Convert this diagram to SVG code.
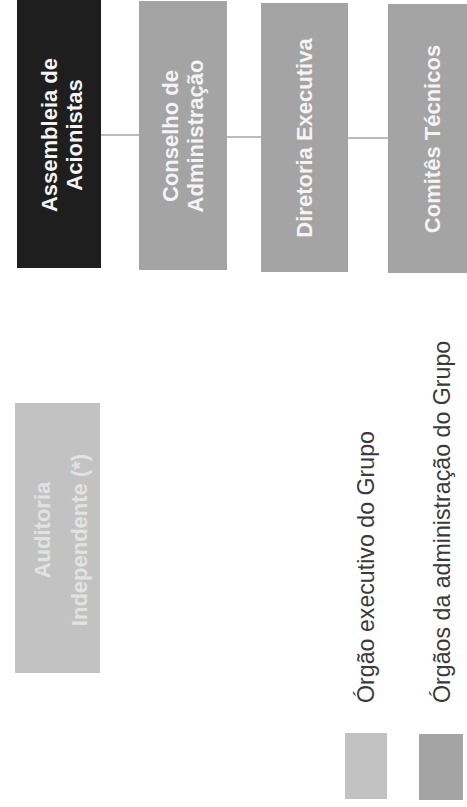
<svg xmlns="http://www.w3.org/2000/svg" width="467" height="807" viewBox="0 0 467 807">
<style>
.bx{font-family:"Liberation Sans",Arial,sans-serif;font-weight:bold;font-size:22px;fill:#f4f4f4;text-anchor:middle}
.au{font-family:"Liberation Sans",Arial,sans-serif;font-weight:bold;font-size:22px;fill:#e2e2e2;text-anchor:middle}
.lg{font-family:"Liberation Sans",Arial,sans-serif;font-size:23.2px;fill:#3a3a3a}
.dark{fill:#1e1e1e}
.gray{fill:#a4a4a4}
.light{fill:#c2c2c2}
.conn line{stroke:#7a7a7a;stroke-width:1.2}
</style>
<rect width="467" height="807" fill="#ffffff"/>
<g class="conn" id="connectors">
<line x1="101" y1="135" x2="139" y2="135"/>
<line x1="227" y1="137" x2="261" y2="137"/>
<line x1="348" y1="138" x2="388" y2="138"/>
</g>
<g id="assembleia">
<rect class="dark" x="17" y="0" width="84" height="268"/>
<text class="bx" transform="translate(57,135) rotate(-90)">Assembleia de<tspan x="0" dy="25">Acionistas</tspan></text>
</g>
<g id="conselho">
<rect class="gray" x="139" y="1" width="88" height="269"/>
<text class="bx" transform="translate(178,136) rotate(-90)">Conselho de<tspan x="0" dy="25">Administração</tspan></text>
</g>
<g id="diretoria">
<rect class="gray" x="261" y="3" width="87" height="269"/>
<text class="bx" transform="translate(312,138) rotate(-90)">Diretoria Executiva</text>
</g>
<g id="comites">
<rect class="gray" x="388" y="4" width="88" height="269"/>
<text class="bx" transform="translate(440,139) rotate(-90)">Comitês Técnicos</text>
</g>
<g id="auditoria">
<rect class="light" x="15" y="403" width="85" height="270"/>
<text class="au" transform="translate(50,530) rotate(-90)">Auditoria</text>
<text class="au" transform="translate(87,540) rotate(-90)">Independente (*)</text>
</g>
<g id="legenda-executivo">
<rect class="light" x="345" y="733" width="42" height="66"/>
<text class="lg" transform="translate(374,703) rotate(-90)">Órgão executivo do Grupo</text>
</g>
<g id="legenda-administracao">
<rect class="gray" x="419" y="734" width="44" height="66"/>
<text class="lg" transform="translate(450,703) rotate(-90)">Órgãos da administração do Grupo</text>
</g>
</svg>
